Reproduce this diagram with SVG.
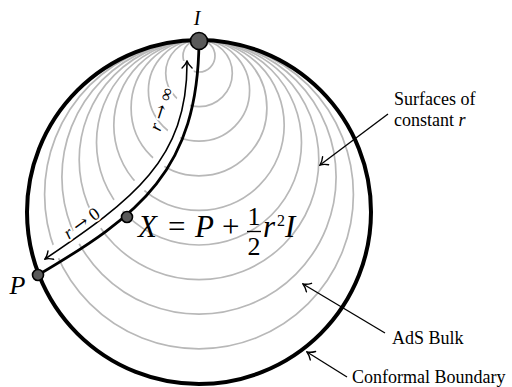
<svg xmlns="http://www.w3.org/2000/svg" width="512" height="387" viewBox="0 0 512 387">
<defs>
<style>
.g{fill:none;stroke:#b8b8b8;stroke-width:1.7}
.t{font-family:"Liberation Serif","DejaVu Serif",serif;fill:#000}
.i{font-style:italic}
.a{font-family:"DejaVu Serif",serif}
.h{stroke:#fff;stroke-width:4;paint-order:stroke;stroke-linejoin:round}
.pt{fill:#5a5a5a;stroke:#000;stroke-width:1.6}
.ptr{fill:none;stroke:#000;stroke-width:1.3}
</style>
<marker id="ah" viewBox="-8 -6 9 12" markerWidth="9" markerHeight="12" refX="0" refY="0" orient="auto-start-reverse" markerUnits="userSpaceOnUse">
<path d="M -7 -5 C -4.5 -2.2 -1.5 -0.6 0 0 C -1.5 0.6 -4.5 2.2 -7 5" fill="none" stroke="#000" stroke-width="1.4" stroke-linecap="round"/>
</marker>
</defs>
<g id="surfaces">
<circle class="g" cx="199" cy="56" r="16"/>
<circle class="g" cx="199" cy="73.3" r="33.3"/>
<circle class="g" cx="199" cy="90.6" r="50.6"/>
<circle class="g" cx="199" cy="107.9" r="67.9"/>
<circle class="g" cx="199" cy="125.2" r="85.2"/>
<circle class="g" cx="199" cy="142.5" r="102.5"/>
<circle class="g" cx="199" cy="159.8" r="119.8"/>
<circle class="g" cx="199" cy="177.1" r="137.1"/>
<circle class="g" cx="199" cy="194.4" r="154.4"/>
</g>
<g id="boundary">
<circle cx="199" cy="212" r="172" fill="none" stroke="#000" stroke-width="4"/>
</g>
<g id="connectors">
<path d="M 187 61 C 188 160 132 200 45 259" fill="none" stroke="#fff" stroke-width="14"/>
<path d="M 199 41 C 198 170 140 215 38 275" fill="none" stroke="#000" stroke-width="2.8"/>
<path d="M 187 61 C 188 160 132 200 45 259" fill="none" stroke="#000" stroke-width="1.6" marker-start="url(#ah)" marker-end="url(#ah)"/>
<line class="ptr" x1="388" y1="114" x2="320" y2="165" marker-end="url(#ah)"/>
<line class="ptr" x1="385" y1="333" x2="303" y2="284" marker-end="url(#ah)"/>
<line class="ptr" x1="347" y1="377" x2="307" y2="352" marker-end="url(#ah)"/>
</g>
<g id="node-I">
<circle class="pt" cx="199" cy="41" r="8.5"/>
<text class="t i" x="197" y="25" font-size="20" text-anchor="middle">I</text>
</g>
<g id="node-P">
<circle class="pt" cx="38" cy="275" r="5.5"/>
<text class="t i" x="17.5" y="294" font-size="26" text-anchor="middle">P</text>
</g>
<g id="node-X">
<circle class="pt" cx="127" cy="217" r="5.5"/>
<text class="t i" x="138" y="237" font-size="31">X</text>
<text class="t" x="168" y="237" font-size="31">=</text>
<text class="t i" x="195" y="237" font-size="31">P</text>
<text class="t" x="222" y="237" font-size="31">+</text>
<text class="t" x="254" y="225" font-size="26" text-anchor="middle">1</text>
<line x1="247" y1="231.5" x2="261" y2="231.5" stroke="#000" stroke-width="1.3"/>
<text class="t" x="254" y="255" font-size="26" text-anchor="middle">2</text>
<text class="t i" x="263" y="237" font-size="31">r</text>
<text class="t" x="277" y="226" font-size="16">2</text>
<text class="t i" x="285" y="237" font-size="31">I</text>
</g>
<g id="label-rinf">
<text class="t h" font-size="18" text-anchor="middle" transform="translate(167,111) rotate(-72)"><tspan class="i">r</tspan> <tspan class="a">→</tspan> ∞</text>
</g>
<g id="label-r0">
<text class="t h" font-size="18" text-anchor="middle" transform="translate(85,228) rotate(-36)"><tspan class="i">r</tspan> <tspan class="a">→</tspan> 0</text>
</g>
<g id="label-surfaces">
<text class="t" x="394" y="105" font-size="18">Surfaces of</text>
<text class="t" x="394" y="126" font-size="18">constant <tspan class="i">r</tspan></text>
</g>
<g id="label-bulk">
<text class="t" x="392" y="344" font-size="18">AdS Bulk</text>
</g>
<g id="label-boundary">
<text class="t" x="352" y="383" font-size="18">Conformal Boundary</text>
</g>
</svg>
